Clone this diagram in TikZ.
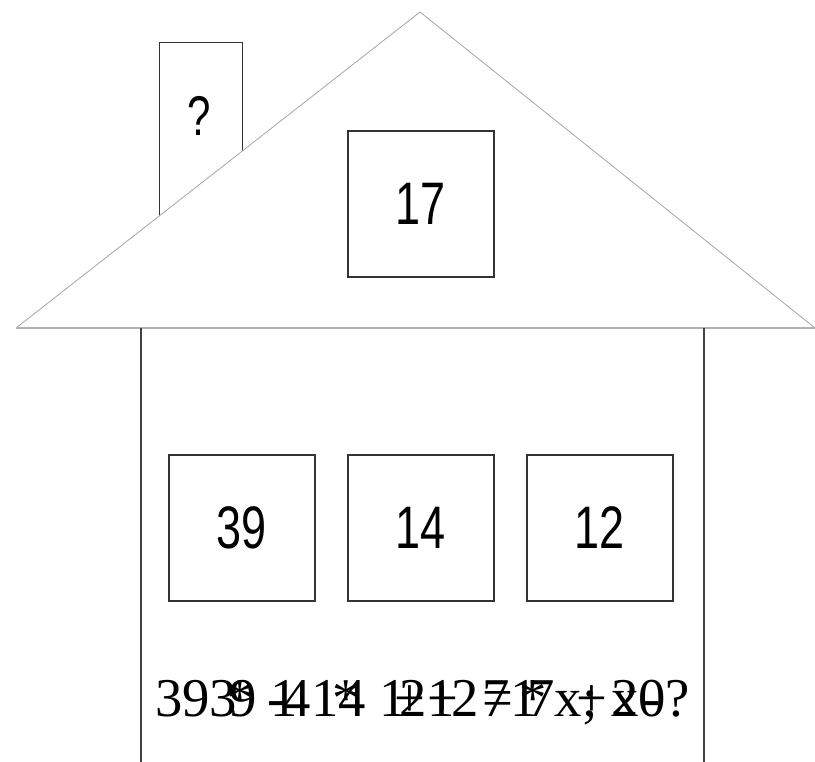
\documentclass[tikz,border=0pt]{standalone}
\usepackage{fontspec}
\setmainfont{Liberation Serif}
\newfontfamily\labelfont[FakeStretch=0.75]{Liberation Sans}
\tikzset{
    win/.style={draw=black!80, line width=0.8pt, minimum width=109.5pt, minimum height=109.5pt,
        inner sep=0pt, font=\labelfont\fontsize{45}{45}\selectfont},
}
\begin{document}
\begin{tikzpicture}[x=0.75pt, y=-0.75pt]
                \useasboundingbox (0, 0) rectangle (815, 762);
                % Roof corners
                \path (420, 12) coordinate (A);
                \path (16, 328) coordinate (L);
                \path (815, 328) coordinate (R);
                % Walls
                \path (141, 328) coordinate (W1);
                \path (704, 328) coordinate (W2);
                \path (141, 762) coordinate (F1);
                \path (704, 762) coordinate (F2);

                % Chimney
                \draw[black!80, line width=0.7pt] (159, 260) -- (159, 42) -- (242, 42) -- (242, 260);
                \node[font=\labelfont\fontsize{42}{42}\selectfont] (chimney) at (199, 116) {?};
                % Roof
                \draw[gray!70, line width=0.6pt, fill=white] (L) -- (A) -- (R);
                \draw[gray!60, line width=1.1pt] (L) -- (R);
                % Walls
                \draw[black!75, line width=0.9pt] (W1) -- (F1);
                \draw[black!75, line width=0.9pt] (W2) -- (F2);

                % Windows
                \node[win] (attic) at (421, 204) {17};
                \node[win] (left) at (242, 528) {39};
                \node[win] (middle) at (421, 528) {14};
                \node[win] (right) at (600, 528) {12};

                % Garbled line
                \node[anchor=base west, inner sep=0pt, font=\fontsize{41}{41}\selectfont] (line) at (155, 717)
                    {393\kern-.15em\rlap{\kern-.05em*}9
                     \rlap{\kern-.05em-}1\kern-.25em 41\kern-.1em\rlap{*}\kern.1em 4
                     1\kern-.13em\rlap{\kern-.1em+}2\rlap{+}1\kern-.05em 2\kern.07em\rlap{=}7%
                     1\kern-.18em\rlap{\kern-.15em*}7x\rlap{\kern-.1em+};
                     \rlap{x}2\rlap{\kern.08em-}0?};
            \end{tikzpicture}
\end{document}
